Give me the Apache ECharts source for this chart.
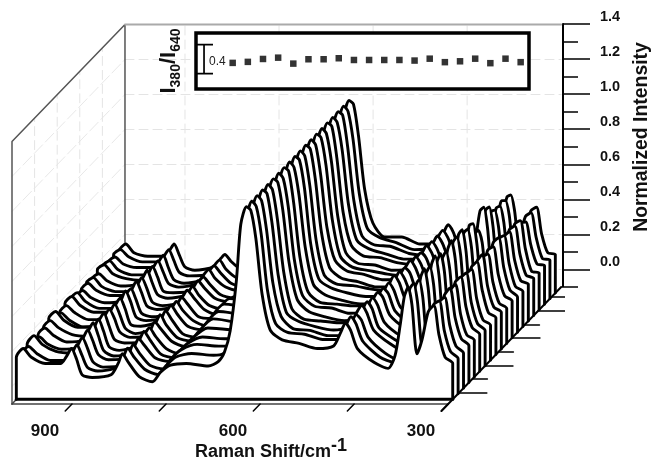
<!DOCTYPE html>
<html><head><meta charset="utf-8">
<script src="https://cdn.jsdelivr.net/npm/echarts@6/dist/echarts.min.js"></script>
<style>html,body{margin:0;padding:0;background:#fff}#c{width:651px;height:460px}</style>
</head><body><div id="c"></div>
<script>
const ramanShift=[996,985,972,950,925,916,908,900,891,875,845,833,827,817,800,779,766,750,725,690,674,664,655,645,638,629,622,614,604,591,572,545,516,490,479,471,463,452,425,403,392,384,377,371,365,357,349,339,330,322,312,300];
const slice01=[.14,.19,.14,.105,.105,.145,.19,.13,.04,.025,.04,.11,.16,.11,.03,.00,.055,.095,.105,.09,.115,.17,.29,.58,.90,1.0,.98,.82,.50,.295,.24,.22,.19,.205,.28,.335,.295,.19,.11,.077,.15,.32,.49,.54,.44,.16,.24,.40,.437,.27,.14,.105];
const slice02=[.13,.17,.13,.09,.09,.13,.18,.12,.05,.03,.05,.12,.16,.11,.04,.01,.06,.11,.13,.12,.13,.18,.30,.59,.90,1.0,.97,.81,.49,.30,.25,.24,.21,.21,.29,.34,.30,.20,.11,.08,.16,.33,.50,.53,.43,.17,.25,.41,.43,.26,.14,.10];
const slice03=[.15,.20,.15,.11,.10,.14,.19,.13,.05,.02,.03,.10,.15,.10,.03,.01,.07,.12,.15,.14,.14,.19,.31,.60,.91,1.0,.97,.80,.50,.31,.24,.23,.20,.20,.27,.32,.29,.19,.10,.06,.14,.31,.48,.52,.42,.15,.23,.39,.42,.26,.14,.10];
const slice04=[.12,.16,.12,.09,.10,.15,.20,.14,.06,.03,.04,.11,.15,.11,.04,.02,.06,.12,.16,.15,.15,.18,.30,.58,.90,1.0,.98,.81,.51,.30,.25,.22,.20,.22,.30,.34,.30,.20,.12,.08,.15,.32,.50,.55,.44,.17,.25,.40,.44,.27,.15,.11];
const slice05=[.14,.18,.14,.10,.11,.16,.21,.14,.05,.02,.04,.12,.16,.11,.03,.01,.05,.12,.18,.17,.16,.19,.31,.59,.90,1.0,.97,.80,.50,.29,.23,.22,.21,.21,.28,.33,.29,.18,.11,.07,.15,.31,.49,.53,.43,.16,.24,.39,.43,.26,.14,.11];
const slice06=[.15,.19,.15,.11,.10,.14,.20,.13,.04,.02,.05,.12,.15,.10,.03,.00,.04,.12,.20,.18,.16,.18,.30,.60,.91,1.0,.98,.82,.52,.31,.24,.21,.19,.20,.27,.32,.28,.18,.10,.07,.16,.33,.51,.56,.45,.17,.25,.41,.44,.27,.15,.11];
const slice07=[.17,.21,.16,.12,.12,.16,.20,.13,.05,.03,.04,.11,.15,.11,.04,.01,.04,.12,.21,.19,.15,.17,.29,.58,.90,1.0,.97,.81,.50,.30,.24,.23,.20,.21,.28,.32,.29,.19,.11,.08,.15,.32,.49,.54,.44,.16,.24,.40,.43,.26,.14,.10];
const slice08=[.13,.17,.13,.09,.10,.15,.19,.14,.06,.03,.04,.12,.16,.10,.03,.01,.03,.12,.22,.20,.15,.16,.30,.59,.91,1.0,.98,.80,.49,.29,.23,.22,.21,.21,.27,.31,.28,.18,.10,.07,.14,.31,.48,.52,.42,.15,.23,.39,.42,.25,.13,.10];
const slice09=[.14,.18,.14,.10,.10,.14,.19,.13,.05,.02,.05,.11,.15,.10,.02,.00,.03,.11,.22,.20,.15,.17,.29,.58,.90,1.0,.97,.81,.51,.30,.24,.21,.19,.19,.26,.31,.27,.17,.10,.06,.15,.32,.50,.55,.45,.17,.25,.40,.43,.27,.14,.11];
const slice10=[.16,.20,.15,.11,.11,.15,.19,.13,.04,.03,.06,.12,.15,.10,.03,.01,.03,.10,.20,.18,.14,.16,.28,.57,.89,1.0,.98,.82,.50,.30,.25,.22,.20,.20,.27,.32,.28,.18,.11,.08,.16,.33,.51,.54,.44,.16,.24,.40,.44,.26,.14,.11];
const slice11=[.15,.19,.14,.10,.10,.14,.20,.14,.05,.03,.05,.11,.14,.09,.03,.00,.02,.08,.16,.14,.12,.16,.29,.59,.91,1.0,.97,.80,.49,.29,.24,.23,.21,.20,.26,.31,.27,.18,.10,.07,.15,.33,.52,.55,.43,.15,.23,.39,.41,.25,.13,.10];
const slice12=[.13,.17,.13,.10,.11,.15,.18,.12,.04,.02,.04,.10,.13,.09,.02,.01,.03,.05,.06,.07,.10,.17,.30,.58,.90,1.0,.98,.81,.50,.30,.24,.22,.19,.19,.26,.30,.27,.17,.10,.07,.16,.34,.50,.52,.42,.15,.24,.40,.42,.26,.14,.11];
const slice13=[.14,.18,.14,.11,.11,.14,.19,.13,.05,.03,.05,.11,.14,.10,.03,.00,.02,.04,.05,.06,.09,.16,.29,.60,.91,1.0,.97,.80,.50,.31,.25,.23,.20,.20,.27,.31,.27,.18,.11,.08,.17,.34,.51,.52,.41,.16,.25,.41,.44,.27,.14,.10];
const slice14=[.15,.18,.13,.10,.10,.13,.18,.12,.04,.02,.04,.10,.13,.08,.02,.00,.02,.03,.05,.05,.08,.15,.28,.57,.89,1.0,.98,.82,.51,.30,.24,.22,.20,.19,.25,.30,.26,.17,.10,.07,.15,.30,.43,.45,.38,.15,.24,.40,.42,.26,.13,.10];
const slice15=[.14,.17,.13,.10,.11,.14,.19,.12,.05,.03,.05,.10,.13,.09,.03,.01,.02,.04,.05,.05,.08,.15,.29,.59,.90,1.0,.97,.81,.50,.29,.23,.22,.19,.20,.26,.29,.26,.17,.11,.08,.17,.36,.53,.55,.43,.15,.23,.38,.41,.25,.13,.11];
const slice16=[.16,.19,.14,.11,.10,.13,.18,.12,.04,.03,.04,.10,.12,.08,.02,.00,.01,.03,.04,.05,.08,.15,.28,.58,.90,1.0,.98,.80,.49,.30,.24,.23,.20,.19,.25,.30,.26,.17,.10,.07,.16,.35,.50,.52,.41,.14,.23,.39,.41,.25,.13,.11];
const slice17=[.15,.18,.13,.10,.10,.14,.18,.12,.05,.03,.05,.11,.13,.08,.03,.01,.02,.03,.04,.04,.07,.14,.28,.57,.90,1.0,.97,.81,.50,.30,.25,.22,.19,.19,.25,.29,.25,.16,.10,.08,.16,.33,.46,.47,.38,.15,.24,.39,.41,.25,.12,.11];
const slice18=[.14,.17,.13,.11,.11,.14,.18,.11,.04,.02,.04,.10,.12,.08,.02,.00,.01,.03,.03,.04,.07,.14,.27,.58,.91,1.0,.98,.80,.49,.29,.24,.23,.19,.18,.24,.29,.25,.16,.10,.08,.16,.32,.45,.46,.37,.14,.23,.36,.37,.24,.13,.12];
const slice19=[.15,.18,.14,.11,.11,.14,.18,.12,.05,.03,.04,.10,.12,.07,.02,.00,.01,.02,.03,.04,.07,.14,.28,.59,.90,1.0,.97,.81,.50,.30,.25,.22,.18,.19,.25,.29,.25,.16,.11,.09,.17,.33,.46,.46,.38,.15,.24,.37,.39,.25,.13,.12];
const slice20=[.14,.18,.13,.11,.11,.14,.18,.12,.05,.03,.05,.10,.12,.08,.03,.00,.01,.02,.03,.04,.06,.14,.27,.58,.90,1.0,.98,.80,.49,.30,.22,.22,.18,.18,.24,.29,.25,.15,.10,.08,.17,.33,.45,.46,.37,.15,.24,.37,.39,.24,.13,.12];
const slices=[slice01,slice02,slice03,slice04,slice05,slice06,slice07,slice08,slice09,slice10,slice11,slice12,slice13,slice14,slice15,slice16,slice17,slice18,slice19,slice20];
const ratioIndex=[1,2,3,4,5,6,7,8,9,10,11,12,13,14,15,16,17,18,19,20];
const ratioValues=[.374,.381,.401,.41,.369,.399,.399,.406,.394,.394,.394,.394,.39,.403,.379,.385,.403,.372,.403,.379];
const majorIntensity=[0,.2,.4,.6,.8,1,1.2,1.4];
const minorIntensity=[-.1,.1,.3,.5,.7,.9,1.1,1.3];
const shiftLabels=[900,600,300];
const shiftTicks=[900,750,600,450,300];
const wallShifts=[900,750,600,450];
const depthTicks=[.915,.795,.675,.564,.444,.325,.214,.094];
const depthTickLengths=[15,28,15,28,15,28,15,28];

const S_MAX=995.7,S_MIN=116.9,V_MIN=-.1,V_MAX=2.0714,DEPTH_S=180.2,DEPTH_V=.6686,V_FLOOR=-.1,PX=.627;
const project=(s,v,d)=>[s-DEPTH_S*d,v+DEPTH_V*d];
const sliceDepth=i=>.04+i*.0478;
const series=[];
function deco(points,style,z){series.push({type:'line',xAxisIndex:0,yAxisIndex:0,data:points,symbol:'none',silent:true,clip:false,z:z===undefined?1:z,lineStyle:Object.assign({color:'#000',width:1.5,cap:'round'},style),tooltip:{show:false}});}
const faint={color:'#e4e4e4',width:1,type:[9,5]};
for(const v of [.0,.2,.4,.6,.8,1,1.2]) deco([project(S_MAX,v,1),project(300,v,1)],faint,0);
for(const s of wallShifts) deco([project(s,V_FLOOR,1),project(s,1.4,1)],faint,0);
for(const v of [0,.2,.4,.6,.8,1,1.2]) deco([project(S_MAX,v,0),project(S_MAX,v,1)],{color:'#e8e8e8',width:1,type:[12,4]},0);
for(const d of [.2,.4,.6,.8]) deco([project(S_MAX,V_FLOOR+.2,d),project(S_MAX,1.4,d)],faint,0);
deco([project(S_MAX,V_FLOOR,0),project(S_MAX,1.4,0),project(S_MAX,1.4,1),project(S_MAX,V_FLOOR,1)],{color:'#555',width:1.5},1);
deco([project(S_MAX,1.4,1),project(300,1.4,1)],{color:'#aaa',width:2},1);
deco([project(S_MAX,V_FLOOR,0),project(300,V_FLOOR,0)],{color:'#444',width:1.5},1);
deco([project(S_MAX,V_FLOOR,0),project(S_MAX,V_FLOOR,sliceDepth(0))],{color:'#444',width:1.5},1);
for(let i=slices.length-1;i>=0;i--){
  const d=sliceDepth(i),base=project(0,V_FLOOR,d)[1];
  const first=ramanShift[0],last=ramanShift[ramanShift.length-1];
  const pts=[project(first,V_FLOOR,d)];
  slices[i].forEach((v,k)=>pts.push(project(ramanShift[k],v,d)));
  pts.push(project(last,V_FLOOR,d));
  series.push({type:'line',name:'slice '+(i+1),xAxisIndex:0,yAxisIndex:0,data:pts,symbol:'none',smooth:.25,clip:false,silent:true,z:40-i,
    lineStyle:{color:'#000',width:2.9,join:'round',cap:'round'},areaStyle:{color:'#fff',opacity:1,origin:base}});
}
deco([project(ramanShift[0],V_FLOOR,sliceDepth(0)),project(ramanShift[51],V_FLOOR,sliceDepth(0))],{width:3},50);
deco([project(300,V_FLOOR,-.06),project(300,V_FLOOR,1)],{width:2},50);
for(const s of shiftTicks) deco([project(s,V_FLOOR,0),project(s,V_FLOOR,-.06)],{width:1.5},50);
depthTicks.forEach((d,k)=>{const a=project(300,V_FLOOR,d);deco([a,[a[0]-depthTickLengths[k]/PX,a[1]]],{width:1.5},3);});

const capL=-1.36,capR=-.3,barX=-.89;
series.push({type:'line',xAxisIndex:2,yAxisIndex:3,data:[[capL,.5],[capR,.5],[barX,.5],[barX,.3],[capL,.3],[capR,.3]],symbol:'none',silent:true,z:8,lineStyle:{color:'#000',width:1.7}});
series.push({type:'scatter',xAxisIndex:2,yAxisIndex:3,data:ratioIndex.map((x,i)=>[x,ratioValues[i]]),symbol:'rect',symbolSize:6.5,itemStyle:{color:'#000'},silent:true,z:8});

const bold='"Liberation Sans",Arial,sans-serif';
const option={animation:false,backgroundColor:'#fff',
 grid:[
  {left:12,top:24,width:551,height:380,show:false},
  {left:563,top:24,width:1,height:263,show:false},
  {left:196,top:33,width:333,height:56,show:true,z:5,backgroundColor:'#fff',borderColor:'#000',borderWidth:3.5},
  {left:12,top:403,width:436,height:1,show:false}
 ],
 xAxis:[
  {type:'value',gridIndex:0,min:S_MIN,max:S_MAX,inverse:true,show:false},
  {type:'value',gridIndex:1,min:0,max:1,show:false},
  {type:'value',gridIndex:2,min:-1.42,max:20.55,show:false},
  {type:'value',gridIndex:3,min:300,max:S_MAX,inverse:true,position:'bottom',
    axisLine:{show:false},axisTick:{show:false},splitLine:{show:false},
    axisLabel:{customValues:shiftLabels,color:'#111',fontFamily:bold,fontWeight:'bold',fontSize:17,margin:20,padding:[0,54,0,0]},
    name:'{a|Raman Shift/cm}{b|-1}',nameLocation:'middle',nameGap:33,nameMoveOverlap:false,
    nameTextStyle:{padding:[0,0,0,82],rich:{a:{fontFamily:bold,fontWeight:'bold',fontSize:18,color:'#111',padding:[7,0,0,0]},b:{fontFamily:bold,fontWeight:'bold',fontSize:18,color:'#111',padding:[0,0,6,0]}}}}
 ],
 yAxis:[
  {type:'value',gridIndex:0,min:V_MIN,max:V_MAX,show:false},
  {type:'value',gridIndex:1,min:-.1,max:1.4,position:'right',offset:-1,
    axisLine:{show:true,onZero:false,lineStyle:{color:'#000',width:2}},
    axisTick:{customValues:majorIntensity,length:27,lineStyle:{color:'#000',width:1.5}},
    splitLine:{show:false},
    axisLabel:{customValues:majorIntensity,formatter:v=>v.toFixed(1),color:'#111',fontFamily:bold,fontWeight:'bold',fontSize:14.5,margin:37,verticalAlign:'bottom'}},
  {type:'value',gridIndex:1,min:-.1,max:1.4,position:'right',offset:-1,
    axisLine:{show:false},splitLine:{show:false},axisLabel:{show:false},
    axisTick:{customValues:minorIntensity,length:14,lineStyle:{color:'#000',width:1.5}}},
  {type:'value',gridIndex:2,min:.194,max:.58,z:8,
    axisLine:{show:false},axisTick:{show:false},splitLine:{show:false},
    axisLabel:{inside:true,customValues:[.385],formatter:v=>v.toFixed(1),color:'#222',fontFamily:bold,fontSize:12,margin:13},
    name:'{i|I}{s|380}{i|/}{i|I}{s|640}',nameLocation:'middle',nameRotate:90,nameGap:13,
    nameTextStyle:{rich:{i:{fontFamily:bold,fontWeight:'bold',fontSize:22,color:'#111'},s:{fontFamily:bold,fontWeight:'bold',fontSize:14,color:'#111',padding:[14,0,0,0]}}}},
  {type:'value',gridIndex:3,min:0,max:1,show:false}
 ],
 graphic:[{type:'text',x:642,y:137,rotation:Math.PI/2,silent:true,style:{text:'Normalized Intensity',align:'center',verticalAlign:'middle',fill:'#111',font:'bold 19.4px '+bold}}],
 series
};
const chart=echarts.init(document.getElementById('c'),null,{renderer:'canvas'});
chart.setOption(option);
</script></body></html>
